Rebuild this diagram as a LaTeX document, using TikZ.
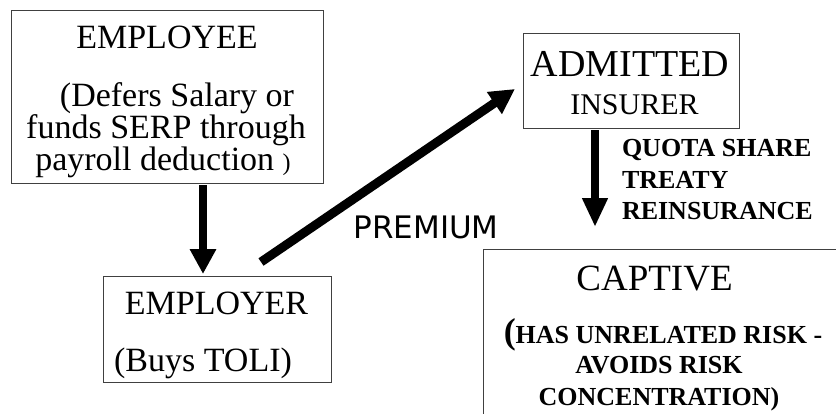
\documentclass[tikz,border=0pt]{standalone}
\usepackage{fontspec}
\setmainfont{Liberation Serif}
\newfontfamily\premfont{DejaVu Sans}
\usetikzlibrary{arrows.meta}
\begin{document}
\begin{tikzpicture}[x=1pt,y=-1pt,
  box/.style={draw=black!75, line width=0.9pt, inner sep=0pt, outer sep=0pt},
  txt/.style={anchor=base, inner sep=0pt, outer sep=0pt},
  big/.style={font=\fontsize{34}{34}\selectfont},
  note/.style={font=\fontsize{26}{26}\selectfont\bfseries},
  bigarrow/.style={line width=8.5pt, -{Triangle[length=25pt,width=25pt]}},
]
\useasboundingbox (0,0) rectangle (836,413);
\clip (0,0) rectangle (836,413);

% boxes
\node[box, minimum width=312pt, minimum height=173pt] (employee) at (167,96.5) {};
\node[box, minimum width=228pt, minimum height=106pt] (employer) at (217,329) {};
\node[box, minimum width=216pt, minimum height=95pt] (admitted) at (631,80.5) {};
\node[box, minimum width=417pt, minimum height=211pt] (captive) at (691.5,354.5) {};

% employee text
\node[txt, big] (empA) at (167,48) {EMPLOYEE};
\node[txt, big] (empB) at (177,106) {(Defers Salary or};
\node[txt, big] (empC) at (166,138) {funds SERP through};
\node[txt, big] (empD) at (163,170) {payroll deduction {\fontsize{24}{24}\selectfont)}};

% employer text
\node[txt, big] (erA) at (216.5,314) {EMPLOYER};
\node[txt, big] (erB) at (203,371) {(Buys TOLI)};

% insurer text
\node[txt, font=\fontsize{38}{38}\selectfont] (insA) at (630,76) {ADMITTED};
\node[txt, font=\fontsize{30}{30}\selectfont] (insB) at (634.5,114) {INSURER};

% captive text
\node[txt, font=\fontsize{37}{37}\selectfont] (capA) at (654.5,290) {CAPTIVE};
\node[txt, note] (capB) at (663,343) {{\fontsize{36}{36}\selectfont(}HAS UNRELATED RISK -};
\node[txt, note] (capC) at (659,373) {AVOIDS RISK};
\node[txt, note] (capD) at (659,405) {CONCENTRATION)};

% reinsurance label
\node[txt, note, anchor=base west] (qs1) at (622,156) {QUOTA SHARE};
\node[txt, note, anchor=base west] (qs2) at (622,188) {TREATY};
\node[txt, note, anchor=base west] (qs3) at (622,219) {REINSURANCE};

% premium label
\node[txt, font=\fontsize{31}{31}\selectfont\premfont] (prem) at (426,238) {PREMIUM};

% connectors
\draw[bigarrow] ([xshift=36pt,yshift=-2pt]employee.south) -- ([xshift=-14pt,yshift=2pt]employer.north);
\draw[line width=9pt, -{Triangle[length=25pt,width=25pt]}] ([xshift=44pt,yshift=14pt]employer.north) -- ([xshift=-8pt,yshift=-8.5pt]admitted.west);
\coordinate (reinTop) at ([xshift=-36pt,yshift=-2pt]admitted.south);
\draw[line width=8.5pt, -{Triangle[length=29pt,width=24pt]}, shorten >=22pt] (reinTop) -- (reinTop |- captive.north);
\end{tikzpicture}
\end{document}
